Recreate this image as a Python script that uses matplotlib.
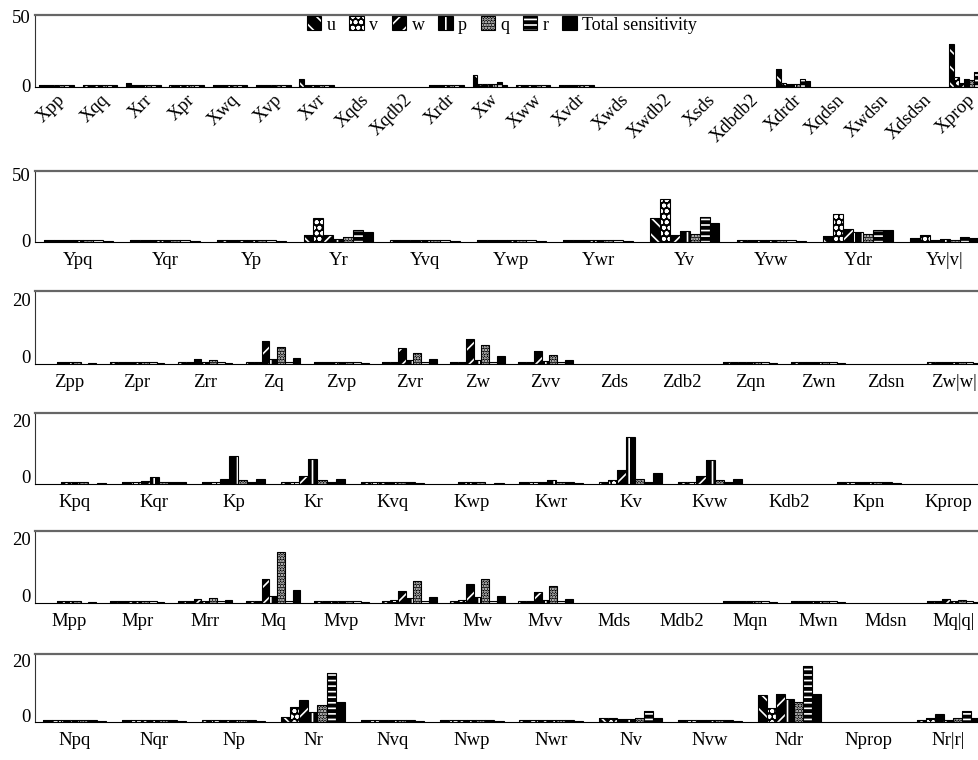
import numpy as np
import matplotlib
matplotlib.use("Agg")
import matplotlib.pyplot as plt
from matplotlib.patches import Patch

plt.rcParams["font.family"] = ["Liberation Serif", "DejaVu Serif"]
plt.rcParams["hatch.linewidth"] = 1.2

n = np.nan
SERIES = ["u", "v", "w", "p", "q", "r", "Total sensitivity"]

X_LABELS = ["Xpp", "Xqq", "Xrr", "Xpr", "Xwq", "Xvp", "Xvr", "Xqds", "Xqdb2", "Xrdr", "Xw",
            "Xww", "Xvdr", "Xwds", "Xwdb2", "Xsds", "Xdbdb2", "Xdrdr", "Xqdsn", "Xwdsn",
            "Xdsdsn", "Xprop"]
X_VALS = [
    [.7, .7, .7, .7, .7, .7, .4], [.7, .7, .7, .7, .7, .7, .4], [2, .7, .7, .7, .7, .7, .4],
    [.7, .7, .7, .7, .7, .7, .4], [.7, .7, .7, .7, .7, .7, .4], [.7, .7, .7, .7, .7, .7, .4],
    [4.5, .7, .7, .7, .7, .7, .4], [n] * 7, [n] * 7, [.7, .7, .7, .7, .7, .7, .4],
    [7.5, .9, .9, .9, 1.2, 2.5, .8], [.7, .7, .7, .7, .7, .7, .4], [.7, .7, .7, .7, .7, .7, .4],
    [n] * 7, [n] * 7, [n] * 7, [n] * 7, [12, 2, 1, 1, 1, 4.5, 3.5], [n] * 7, [n] * 7, [n] * 7,
    [30, 6, 2, 4.5, 4, 10, 9],
]

Y_LABELS = ["Ypq", "Yqr", "Yp", "Yr", "Yvq", "Ywp", "Ywr", "Yv", "Yvw", "Ydr", "Yv|v|"]
Y_VALS = [
    [-.3, -.3, -.3, -.3, -.3, -.3, -.8], [-.3, -.3, -.3, -.3, -.3, -.3, -.8],
    [-.3, -.3, -.3, -.3, -.3, -.3, -.8], [3.5, 16.6, 3.5, 1, 2.5, 7.5, 6],
    [-.3, -.3, -.3, -.3, -.3, -.3, -.8], [-.3, -.3, -.3, -.3, -.3, -.3, -.8],
    [-.3, -.3, -.3, -.3, -.3, -.3, -.8], [16.6, 31.8, 3.5, 7, 5, 17.6, 13],
    [-.3, -.3, -.3, -.3, -.3, -.3, -.8], [3, 19.7, 8.7, 6, 4.7, 7.6, 7.6],
    [1.3, 3.5, -.3, 1, 0, 2.5, 1.3],
]

Z_LABELS = ["Zpp", "Zpr", "Zrr", "Zq", "Zvp", "Zvr", "Zw", "Zvv", "Zds", "Zdb2", "Zqn", "Zwn",
            "Zdsn", "Zw|w|"]
Z_VALS = [
    [n, n, -1.8, -1.8, -1.8, n, -2.1], [-1.8, -1.8, -1.8, -1.8, -1.8, -1.8, -2.1],
    [-1.8, -1.8, -.6, -1.8, -1, -1.8, -2.1], [-1.8, -1.8, 5.5, -.8, 3.5, -1.8, -.3],
    [-1.8, -1.8, -1.8, -1.8, -1.8, -1.8, -2.1], [-1.8, -1.8, 3.2, -1.2, 1.5, -1.8, -.8],
    [-1.8, -1.8, 6.3, -1, 4, -1.8, .2], [-1.8, -1.8, 2.2, -1.5, .8, -1.8, -1],
    [n] * 7, [n] * 7, [-1.8, -1.8, -1.8, -1.8, -1.8, -1.8, -2.1],
    [-1.8, -1.8, -1.8, -1.8, -1.8, -1.8, -2.1], [n] * 7,
    [-1.8, -1.8, -1.8, -1.8, -1.8, -1.8, -2.1],
]

K_LABELS = ["Kpq", "Kqr", "Kp", "Kr", "Kvq", "Kwp", "Kwr", "Kv", "Kvw", "Kdb2", "Kpn", "Kprop"]
K_VALS = [
    [n, n, -1.8, -1.8, -1.8, n, -2.1], [-1.8, -1.8, -1.5, 0, -1.8, -1.8, -1.8],
    [-1.8, -1.8, -.8, 7.3, -1.2, -1.8, -.8], [-1.8, -1.8, .3, 6.3, -1.2, -1.8, -.8],
    [-1.8, -1.8, -1.8, -1.8, -1.8, -1.8, -2.1], [n, n, -1.8, -1.8, -1.8, n, -2.1],
    [-1.8, -1.8, -1.8, -1.2, -1.8, -1.8, -2], [-1.8, -1.2, 2.4, 14, -.8, -1.8, 1.2],
    [-1.8, -1.8, .2, 5.8, -1, -1.8, -.8], [n] * 7,
    [-1.8, -1.8, -1.8, -1.8, -1.8, -1.8, -2.1], [n] * 7,
]

M_LABELS = ["Mpp", "Mpr", "Mrr", "Mq", "Mvp", "Mvr", "Mw", "Mvv", "Mds", "Mdb2", "Mqn", "Mwn",
            "Mdsn", "Mq|q|"]
M_VALS = [
    [n, n, -1.8, -1.8, -1.8, n, -2.1], [-1.8, -1.8, -1.8, -1.8, -1.8, -1.8, -2.1],
    [-1.8, -1.8, -1, -1.8, -.6, -1.8, -1.5], [-1.8, -1.8, 6, 0, 15.3, -1.8, 2],
    [-1.8, -1.8, -1.8, -1.8, -1.8, -1.8, -2.1], [-1.8, -1.5, 1.8, -.8, 5, -1.8, -.4],
    [-1.8, -1.5, 4, -.5, 6, -1.8, -.2], [-1.8, -1.8, 1.2, -1.5, 3.5, -1.8, -1.2],
    [n] * 7, [n] * 7, [-1.8, -1.8, -1.8, -1.8, -1.8, -1.8, -2.1],
    [-1.8, -1.8, -1.8, -1.8, -1.8, -1.8, -2.1], [n] * 7,
    [-1.8, -1.8, -1.2, -1.8, -1.4, -1.8, -2],
]

N_LABELS = ["Npq", "Nqr", "Np", "Nr", "Nvq", "Nwp", "Nwr", "Nv", "Nvw", "Ndr", "Nprop", "Nr|r|"]
N_VALS = [
    [-1.8, -1.8, -1.8, -1.8, -1.8, -1.8, -2.1], [-1.8, -1.8, -1.8, -1.8, -1.8, -1.8, -2.1],
    [-1.8, -1.8, -1.8, -1.8, -1.8, -1.8, -2.1], [-.5, 3, 5.6, 1.3, 3.8, 15.5, 5],
    [-1.8, -1.8, -1.8, -1.8, -1.8, -1.8, -2.1], [-1.8, -1.8, -1.8, -1.8, -1.8, -1.8, -2.1],
    [-1.8, -1.8, -1.8, -1.8, -1.8, -1.8, -2.1], [-1, -1.2, -1.5, -1.4, -1.2, 1.6, -1],
    [-1.8, -1.8, -1.8, -1.8, -1.8, -1.8, -2.1], [7.4, 2.6, 7.7, 5.9, 4.7, 18.1, 7.8],
    [n] * 7, [-1.6, -.9, .4, -1.8, -1.2, 1.5, -1.2],
]

HATCH = ["\\\\", "ooo", "//", "||", "......", "---", None]

W, H = 979, 760
# (labels, values, ylim, yticks, top px, baseline px, rotate labels)
PANELS = [
    (X_LABELS, X_VALS, (-1, 51), [0, 50], 15, 87, True),
    (Y_LABELS, Y_VALS, (-1.5, 53), [0, 50], 171, 242, False),
    (Z_LABELS, Z_VALS, (-2.5, 23), [0, 20], 291, 364, False),
    (K_LABELS, K_VALS, (-2.5, 22.5), [0, 20], 413, 484, False),
    (M_LABELS, M_VALS, (-2.5, 22.5), [0, 20], 531, 603, False),
    (N_LABELS, N_VALS, (-2.5, 22.5), [0, 20], 654, 722, False),
]


def draw_series(ax, x, vals, floor, k, bw):
    v = np.array(vals, dtype=float)
    ok = ~np.isnan(v)
    xs, hs = x[ok], v[ok] - floor
    if HATCH[k] is None:
        ax.bar(xs, hs, bw, bottom=floor, color="black", edgecolor="black", lw=0.8)
        return
    ax.bar(xs, hs, bw, bottom=floor, color="black", edgecolor="white", hatch=HATCH[k], lw=0)
    ax.bar(xs, hs, bw, bottom=floor, fill=False, edgecolor="black", lw=0.8)


fig = plt.figure(figsize=(W / 100, H / 100), dpi=100)
for labels, vals, ylim, yticks, top, base, rot in PANELS:
    ax = fig.add_axes([35 / W, 1 - base / H, 953 / W, (base - top) / H])
    N = len(labels)
    x = np.arange(1, N + 1, dtype=float)
    bw = 0.8 / 7
    arr = np.array(vals, dtype=float)
    for k in range(7):
        draw_series(ax, x + (k - 3) * bw, arr[:, k], ylim[0], k, bw)
    ax.set_xlim(0.5, N + 0.5)
    ax.set_ylim(*ylim)
    ax.set_yticks(yticks)
    ax.set_xticks(x)
    if rot:
        ax.set_xticklabels(labels, rotation=45, ha="right", va="top", rotation_mode="anchor",
                           fontsize=13.5)
    else:
        ax.set_xticklabels(labels, fontsize=13.5)
    ax.tick_params(axis="both", length=0)
    ax.tick_params(axis="y", labelsize=13.5, pad=3)
    ax.tick_params(axis="x", pad=7 if not rot else 3)
    ax.spines["right"].set_visible(False)
    ax.spines["top"].set_color("0.4")
    ax.spines["top"].set_linewidth(1.6)
    ax.spines["left"].set_color("0.2")
    ax.spines["bottom"].set_color("black")

handles = []
for k in range(7):
    if HATCH[k] is None:
        handles.append(Patch(facecolor="black", edgecolor="black", lw=0.8))
    else:
        handles.append((Patch(facecolor="black", edgecolor="white", hatch=HATCH[k], lw=0),
                        Patch(fill=False, edgecolor="black", lw=0.8)))
fig.legend(handles, SERIES, loc="center", bbox_to_anchor=(502 / W, 1 - 25 / H), ncol=7,
           frameon=False, handlelength=0.8, handleheight=0.8, handletextpad=0.3,
           columnspacing=0.75, fontsize=13)

fig.savefig("out.png", dpi=100)
